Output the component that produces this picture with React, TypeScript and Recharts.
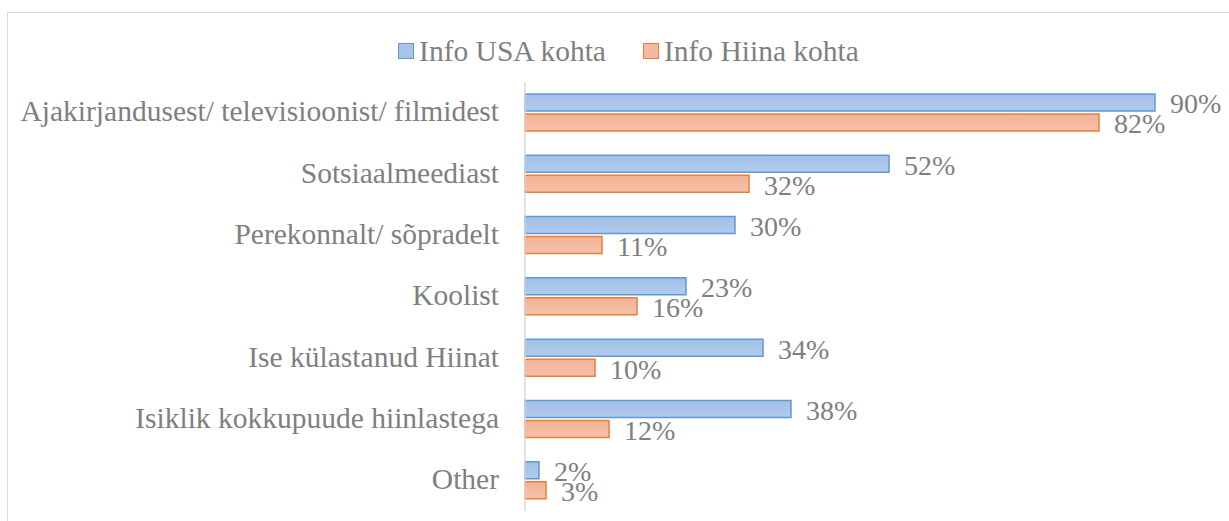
import React from 'react';
import { BarChart, Bar, XAxis, YAxis, Legend, LabelList } from 'recharts';

const categories = [
  'Ajakirjandusest/ televisioonist/ filmidest',
  'Sotsiaalmeediast',
  'Perekonnalt/ sõpradelt',
  'Koolist',
  'Ise külastanud Hiinat',
  'Isiklik kokkupuude hiinlastega',
  'Other',
];
const usaValues = [90, 52, 30, 23, 34, 38, 2];
const chinaValues = [82, 32, 11, 16, 10, 12, 3];
const seriesNames = ['Info USA kohta', 'Info Hiina kohta'];
const xDomain = [0, 100];

const data = categories.map((c, i) => ({ category: c, usa: usaValues[i], china: chinaValues[i] }));

const FONT = 'Liberation Serif, Tinos, DejaVu Serif';
const TEXT = '#7f7f7f';
const BLUE_STROKE = '#5b9bd5';
const ORANGE_STROKE = '#ed7d31';

const renderLabel = (props: any) => {
  const { x, y, width, height, value } = props;
  return (
    <text
      x={Number(x) + Number(width) + 15}
      y={Number(y) + Number(height) / 2}
      dy="0.39em"
      fill={TEXT}
      fontSize={28}
      style={{ fontFamily: FONT }}
      textAnchor="start"
    >
      {value}%
    </text>
  );
};

const CategoryTick = (props: any) => {
  const { x, y, payload } = props;
  return (
    <text x={x} y={y} dy="0.3em" textAnchor="end" fill={TEXT} fontSize={29.5} style={{ fontFamily: FONT }}>
      {payload.value}
    </text>
  );
};

const LegendContent = () => {
  const items = [
    { name: seriesNames[0], fill: '#a9c4e8', stroke: BLUE_STROKE },
    { name: seriesNames[1], fill: '#f5b8a0', stroke: ORANGE_STROKE },
  ];
  return (
    <div
      style={{
        display: 'flex',
        justifyContent: 'center',
        alignItems: 'center',
        height: 32,
        paddingLeft: 28,
        fontFamily: FONT,
        fontSize: 29.5,
        lineHeight: '32px',
        color: TEXT,
      }}
    >
      {items.map((it, i) => (
        <div key={it.name} style={{ display: 'flex', alignItems: 'center', marginLeft: i === 0 ? 0 : 37 }}>
          <span
            style={{
              display: 'inline-block',
              width: 16,
              height: 16,
              boxSizing: 'border-box',
              background: it.fill,
              border: `1.5px solid ${it.stroke}`,
              marginRight: 5,
              marginTop: -1,
            }}
          />
          <span>{it.name}</span>
        </div>
      ))}
    </div>
  );
};

export default function App() {
  return (
    <div
      style={{
        position: 'fixed',
        left: 0,
        top: 0,
        width: 1229,
        height: 521,
        overflow: 'hidden',
        background: '#fff',
        fontFamily: FONT,
      }}
    >
      <div
        style={{
          position: 'absolute',
          left: 7,
          top: 12,
          width: 1400,
          height: 700,
          border: '1.5px solid #d9d9d9',
        }}
      />
      <div style={{ position: 'absolute', left: 0, top: 0 }}>
        <BarChart
          width={1229}
          height={521}
          data={data}
          layout="vertical"
          margin={{ top: 50, right: 4, bottom: 10, left: 0 }}
          barSize={17}
          barGap={3}
        >
          <defs>
            <linearGradient id="gBlue" x1="0" y1="0" x2="0" y2="1">
              <stop offset="0%" stopColor="#a2bfe6" />
              <stop offset="100%" stopColor="#b0cbed" />
            </linearGradient>
            <linearGradient id="gOrange" x1="0" y1="0" x2="0" y2="1">
              <stop offset="0%" stopColor="#f3b295" />
              <stop offset="100%" stopColor="#f7c2ab" />
            </linearGradient>
          </defs>
          <Legend verticalAlign="top" align="center" content={<LegendContent />} wrapperStyle={{ top: 35, left: 0, width: 1229 }} />
          <XAxis type="number" domain={xDomain} hide />
          <YAxis
            type="category"
            dataKey="category"
            width={525}
            axisLine={{ stroke: '#d9d9d9', strokeWidth: 1.5 }}
            tickLine={false}
            tickSize={6}
            tickMargin={20}
            tick={<CategoryTick />}
            interval={0}
          />
          <Bar dataKey="usa" name={seriesNames[0]} fill="url(#gBlue)" stroke={BLUE_STROKE} strokeWidth={1.5} isAnimationActive={false}>
            <LabelList dataKey="usa" content={renderLabel} />
          </Bar>
          <Bar dataKey="china" name={seriesNames[1]} fill="url(#gOrange)" stroke={ORANGE_STROKE} strokeWidth={1.5} isAnimationActive={false}>
            <LabelList dataKey="china" content={renderLabel} />
          </Bar>
        </BarChart>
      </div>
    </div>
  );
}
